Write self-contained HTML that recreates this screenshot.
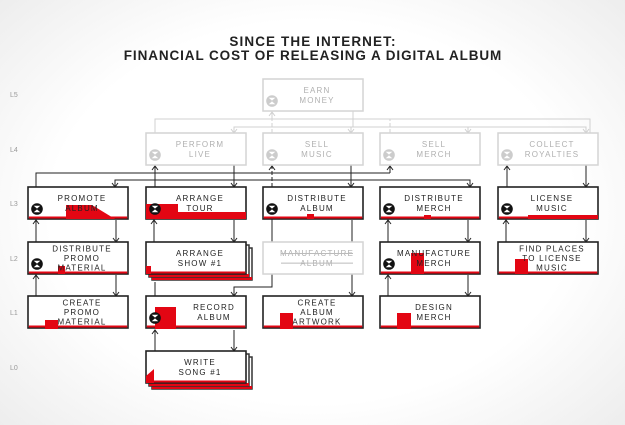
<!DOCTYPE html>
<html><head><meta charset="utf-8"><style>
html,body{margin:0;padding:0}
body{width:625px;height:425px;overflow:hidden;background:radial-gradient(ellipse 70% 75% at 50% 50%,#ffffff 60%,#ececec 100%);font-family:"Liberation Sans",sans-serif}
svg{position:absolute;left:0;top:0}
</style></head><body>
<svg id="dg" width="625" height="425" viewBox="0 0 625 425">
<text x="313" y="46" text-anchor="middle" font-size="13.5" font-weight="bold" letter-spacing="1.1" fill="#222">SINCE THE INTERNET:</text>
<text x="313" y="60" text-anchor="middle" font-size="13.5" font-weight="bold" letter-spacing="0.9" fill="#222">FINANCIAL COST OF RELEASING A DIGITAL ALBUM</text>
<g font-size="7" fill="#999">
<text x="10" y="97">L5</text><text x="10" y="152">L4</text><text x="10" y="206">L3</text><text x="10" y="261">L2</text><text x="10" y="315">L1</text><text x="10" y="370">L0</text>
</g>
<g id="lines" fill="none" stroke-width="1"></g>
<g id="boxes"></g>
</svg>
<script>
const NS='http://www.w3.org/2000/svg';
const colX=[28,146,263,380,498];
const rowY={5:79,4:133,3:187,2:242,1:296,0:351};
const W=100,H=32;
function el(t,a,p){const e=document.createElementNS(NS,t);for(const k in a)e.setAttribute(k,a[k]);p.appendChild(e);return e;}
const boxes=[
 {id:'earn-money',c:2,r:5,t:['EARN','MONEY'],g:1,i:1},
 {id:'perform-live',c:1,r:4,t:['PERFORM','LIVE'],g:1,i:1},
 {id:'sell-music',c:2,r:4,t:['SELL','MUSIC'],g:1,i:1},
 {id:'sell-merch',c:3,r:4,t:['SELL','MERCH'],g:1,i:1},
 {id:'collect-royalties',c:4,r:4,t:['COLLECT','ROYALTIES'],g:1,i:1},
 {id:'promote-album',c:0,r:3,t:['PROMOTE','ALBUM'],i:1,red:'66,205 92,205 115,219 66,219'},
 {id:'arrange-tour',c:1,r:3,t:['ARRANGE','TOUR'],i:1,red:'146,204 178,204 178,212 246,212 246,219 146,219'},
 {id:'distribute-album',c:2,r:3,t:['DISTRIBUTE','ALBUM'],i:1,red:'307,214 314,214 314,219 307,219'},
 {id:'distribute-merch',c:3,r:3,t:['DISTRIBUTE','MERCH'],i:1,red:'424,215 431,215 431,219 424,219'},
 {id:'license-music',c:4,r:3,t:['LICENSE','MUSIC'],i:1,red:'528,215 598,215 598,219 528,219'},
 {id:'distribute-promo-material',c:0,r:2,t:['DISTRIBUTE','PROMO','MATERIAL'],i:1,red:'58,266 65,266 65,274 58,274'},
 {id:'arrange-show',c:1,r:2,t:['ARRANGE','SHOW #1'],stack:1,red:'146,266 151,266 151,274 146,274'},
 {id:'manufacture-album',c:2,r:2,t:['MANUFACTURE','ALBUM'],g:1,strike:1},
 {id:'manufacture-merch',c:3,r:2,t:['MANUFACTURE','MERCH'],i:1,red:'411,253 424,253 424,274 411,274'},
 {id:'find-places-to-license',c:4,r:2,t:['FIND PLACES','TO LICENSE','MUSIC'],red:'515,259 528,259 528,274 515,274'},
 {id:'create-promo-material',c:0,r:1,t:['CREATE','PROMO','MATERIAL'],red:'45,320 58,320 58,329 45,329'},
 {id:'record-album',c:1,r:1,t:['RECORD','ALBUM'],i:1,red:'155,307 176,307 176,329 155,329',tx:18},
 {id:'create-album-artwork',c:2,r:1,t:['CREATE','ALBUM','ARTWORK'],red:'280,313 293,313 293,329 280,329'},
 {id:'design-merch',c:3,r:1,t:['DESIGN','MERCH'],red:'397,313 411,313 411,329 397,329'},
 {id:'write-song',c:1,r:0,t:['WRITE','SONG #1'],stack:1,red:'146,376 154,369 154,383 146,383'}
];
const bg=document.getElementById('boxes');
function icon(p,x,y,g){
 const col=g?'#ccc':'#111';
 const ic=el('g',{},p);
 
 
 el('circle',{cx:x,cy:y,r:5.8,fill:col},ic);
 el('polygon',{points:`${x-3.3},${y-3.3} ${x+3.3},${y-3.3} ${x},${y-0.4}`,fill:'#fff'},ic);
 el('polygon',{points:`${x-3.3},${y+3.3} ${x+3.3},${y+3.3} ${x},${y+0.4}`,fill:'#fff'},ic);
}
boxes.forEach(b=>{
 const x=colX[b.c],y=rowY[b.r];
 const g=el('g',{},bg);
 
 
 if(b.stack){
  for(const o of [6,3]){
   el('rect',{x:x+o,y:y+o,width:W,height:H,fill:'#fff',stroke:'#333','stroke-width':1.5},g);
   el('rect',{x:x+o,y:y+o+H-3,width:W,height:3,fill:'#e30613'},g);
  }
 }
 el('rect',{x:x,y:y,width:W,height:H,fill:'#fff',stroke:b.g?'#d4d4d4':'#222','stroke-width':b.g?1.5:1.6},g);
 if(!b.g){
  el('rect',{x:x+0.8,y:y+H-2.5,width:W-1.6,height:2,fill:'#e30613'},g);
 }
 if(b.red) el('polygon',{points:b.red,fill:'#e30613'},g);
 if(b.i) icon(g,x+9,y+H-10,b.g);
 const n=b.t.length;const cx=x+W/2+(b.tx||4);
 const y0=y+H/2-(n-1)*4.8+3;
 b.t.forEach((s,k)=>{
  const t=el('text',{x:cx,y:y0+k*9.6,'text-anchor':'middle','font-size':8,'letter-spacing':1.2,fill:b.g?'#b0b0b0':'#222'},g);
  t.textContent=s;
  if(b.strike) el('line',{x1:cx-36,x2:cx+36,y1:y0+k*9.6-2.7,y2:y0+k*9.6-2.7,stroke:'#bbb'},g);
 });
});
const lg=document.getElementById('lines');
function path(d,c,arrow,dash){
 const p=el('path',{d:d,stroke:c},lg);
 if(dash)p.setAttribute('stroke-dasharray','4,2');
 
 
}
function arr(x,y,dir,c){
 const d=dir>0?`M${x-3},${y-4}L${x},${y}L${x+3},${y-4}`:`M${x-3},${y+4}L${x},${y}L${x+3},${y+4}`;
 const p=el('path',{d:d,stroke:c},lg);
 
 
}
const G='#d0d0d0',K='#222';
path('M155,133V119H590V133',G);path('M272,133V119',G,0,1);path('M390,133V119',G,0,1);
path('M234,133V127H586V133',G);path('M353,111V127',G);path('M468,127V133',G);path('M351,127V133',G);
arr(234,133,1,G);arr(351,133,1,G);arr(468,133,1,G);arr(586,133,1,G);
path('M272,119V112',G);arr(272,112,-1,G);
path('M36,187V173H390',K);path('M390,173V166',K);arr(390,166,-1,K);
path('M115,187V180H470V187',K);arr(115,187,1,K);arr(470,187,1,K);
path('M234,165V187',K);arr(234,187,1,K);
path('M351,165V187',K);arr(351,187,1,K);
path('M586,165V187',K);arr(586,187,1,K);
path('M155,187V165',K);arr(155,166,-1,K);
path('M272,187V165',K,0,1);arr(272,166,-1,K);
path('M507,187V165',K);arr(507,166,-1,K);
for(const c of [0,1,3,4]){const x=colX[c];
 path(`M${x+8},242V220`,K);arr(x+8,220,-1,K);
 path(`M${x+88},220V242`,K);arr(x+88,242,1,K);}
for(const c of [0,3]){const x=colX[c];
 path(`M${x+8},296V275`,K);arr(x+8,275,-1,K);
 path(`M${x+88},275V296`,K);arr(x+88,296,1,K);}
path('M352,220V296',K);arr(352,296,1,K);
path('M272,187V287H234V296',K);arr(234,296,1,K);
path('M155,296V282',K);
path('M155,351V330',K);arr(155,330,-1,K);
path('M234,330V351',K);arr(234,351,1,K);
</script>
</body></html>
